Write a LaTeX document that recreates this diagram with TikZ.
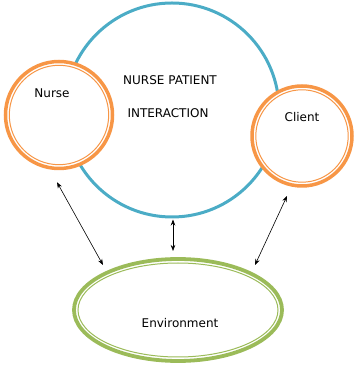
\documentclass[tikz,border=0pt]{standalone}
\usepackage{fontspec}
\setmainfont{DejaVu Sans}
\usetikzlibrary{arrows.meta, positioning, shapes.geometric}
\usepackage{xcolor}
\definecolor{ringorange}{HTML}{F79646}
\definecolor{ringblue}{HTML}{4BACC6}
\definecolor{ringgreen}{HTML}{9BBB59}
\tikzset{
  ring/.style 2 args={circle, draw=#1, line width=3.5pt, fill=white,
    inner sep=0pt, minimum size=2*#2,
    path picture={\draw[#1, line width=1pt]
      (path picture bounding box.center) circle (#2-3.8pt);}},
  oval/.style={ellipse, draw=ringgreen, line width=3.8pt, fill=white,
    inner sep=0pt, minimum width=208pt, minimum height=102pt,
    path picture={\draw[ringgreen, line width=1pt]
      (path picture bounding box.center)
      ellipse [x radius=100pt, y radius=47pt];}},
  link/.style={{Stealth[length=6pt,width=4.5pt]}-{Stealth[length=6pt,width=4.5pt]}, line width=0.6pt},
  lbl/.style={font=\fontsize{12}{14}\selectfont},
  caps/.style={font=\fontsize{12}{14}\selectfont}
}

\begin{document}
\begin{tikzpicture}[x=1pt, y=1pt]
      \useasboundingbox (0,0) rectangle (357,366);
      \node[circle, draw=ringblue, line width=3pt, minimum size=214pt, inner sep=0pt]
        (interact) at (172,256) {};
      \node[ring={ringorange}{53.5pt}] (nurse) at (59,251) {};
      \node[ring={ringorange}{50pt}] (client) at (302,230) {};
      \node[oval] (env) at (178,56) {};

      \node[caps] at ([shift={(-2,30)}]interact.center) {NURSE PATIENT};
      \node[caps] at ([shift={(-4,-3)}]interact.center) {INTERACTION};
      \node[lbl] at ([shift={(-7,22)}]nurse.center) {Nurse};
      \node[lbl] at ([shift={(0,19)}]client.center) {Client};
      \node[lbl] at ([shift={(2,-13)}]env.center) {Environment};

      \draw[link] ([shift={(-2,-12)}]nurse.south) -- ([shift={(-75,45)}]env.center);
      \draw[link] ([shift={(1,-1)}]interact.south) -- ([shift={(-5,59)}]env.center);
      \draw[link] ([shift={(-15,-60)}]client.center) -- ([shift={(77,45)}]env.center);
    \end{tikzpicture}
\end{document}
